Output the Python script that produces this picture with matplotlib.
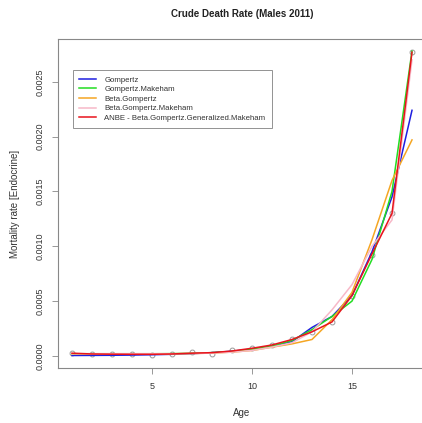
import matplotlib
matplotlib.use('Agg')
import matplotlib.pyplot as plt

plt.rcParams['font.family'] = ['Liberation Sans', 'DejaVu Sans']

# ages and observed crude death rates
age = list(range(1, 19))
observed = [0.000025, 0.000015, 0.000015, 0.000015, 0.000012, 0.000018,
            0.00004, 0.00002, 0.00005, 0.00007, 0.0001, 0.00015,
            0.00022, 0.00031, 0.00055, 0.00092, 0.0013, 0.00277]

# fitted curves per model
gompertz = [0.000004, 0.000005, 0.000006, 0.000008, 0.000011, 0.000015,
            0.000021, 0.00003, 0.000043, 0.000062, 0.00009, 0.00013,
            0.00026, 0.00036, 0.00055, 0.00095, 0.00145, 0.00224]
gompertz_makeham = [0.00002, 0.00002, 0.00002, 0.00002, 0.00002, 0.000021,
                    0.000024, 0.00003, 0.00004, 0.00006, 0.00009, 0.00014,
                    0.00024, 0.00036, 0.0005, 0.00088, 0.0015, 0.00278]
beta_gompertz = [0.00002, 0.00002, 0.00002, 0.00002, 0.00002, 0.00002,
                 0.000022, 0.000026, 0.000035, 0.00005, 0.00008, 0.00011,
                 0.00015, 0.00033, 0.00058, 0.00106, 0.0016, 0.00197]
beta_gompertz_makeham = [0.00002, 0.00002, 0.00002, 0.00002, 0.00002, 0.00002,
                         0.000022, 0.000026, 0.000035, 0.00005, 0.00008, 0.00012,
                         0.00022, 0.00042, 0.00065, 0.001, 0.00124, 0.0027]
anbe = [0.000025, 0.000018, 0.000016, 0.000015, 0.000015, 0.000018,
        0.000025, 0.00003, 0.000045, 0.00007, 0.0001, 0.00015,
        0.00022, 0.00031, 0.00055, 0.00093, 0.0013, 0.00277]

labels = ['Gompertz', 'Gompertz.Makeham', 'Beta.Gompertz',
          'Beta.Gompertz.Makeham', 'ANBE - Beta.Gompertz.Generalized.Makeham']
colors = ['#1f1fe0', '#22dd22', '#f5a623', '#f7b8c8', '#e8141c']

fig = plt.figure(figsize=(4.22, 4.23), dpi=100)
ax = fig.add_axes([58.4 / 422, 55 / 423, 367.2 / 422, 329 / 423])

ax.plot(age, observed, 'o', mfc='none', mec='#999999', ms=3.5, mew=0.7)
series = [gompertz, gompertz_makeham, beta_gompertz, beta_gompertz_makeham, anbe]
for s, c, lab in zip(series, colors, labels):
    ax.plot(age, s, color=c, lw=1.1, label=lab)

ax.set_xlim(0.32, 18.68)
ax.set_ylim(-0.00011, 0.00289)
ax.set_xticks([5, 10, 15])
ax.set_yticks([0, 0.0005, 0.001, 0.0015, 0.002, 0.0025])
ax.set_yticklabels(['0.0000', '0.0005', '0.0010', '0.0015', '0.0020', '0.0025'],
                   rotation=90, va='center')
ax.tick_params(labelsize=6.5, colors='#888888', labelcolor='#333333',
               length=4, width=0.6, pad=6)
for sp in ax.spines.values():
    sp.set_color('#888888')
    sp.set_linewidth(0.8)

ax.set_xlabel('Age', fontsize=7, color='#333333', labelpad=12)
ax.set_ylabel('Mortality rate [Endocrine]', fontsize=7, color='#333333', labelpad=11)
fig.text(242 / 422, 1 - 14 / 423, 'Crude Death Rate (Males 2011)', fontsize=7,
         fontweight='bold', ha='center', va='center', color='#222222')

leg = ax.legend(loc='upper left', bbox_to_anchor=(0.04, 0.906), fontsize=5.6,
                frameon=True, fancybox=False, handlelength=2.2, handletextpad=1.0,
                labelspacing=0.28, borderpad=0.8, borderaxespad=0)
leg.get_frame().set_edgecolor('#777777')
leg.get_frame().set_linewidth(0.7)
for t in leg.get_texts():
    t.set_color('#333333')

fig.savefig('out.png', dpi=100)
